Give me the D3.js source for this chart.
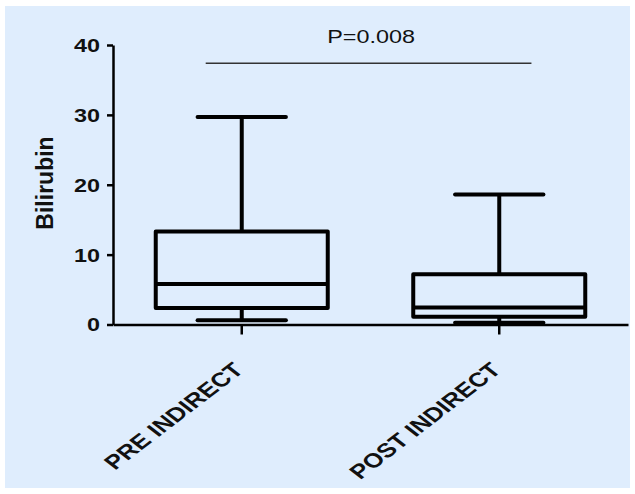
<!DOCTYPE html>
<html>
<head>
<meta charset="utf-8">
<script src="https://cdn.jsdelivr.net/npm/d3@7"></script>
<style>
  body { margin: 0; background: #fff; }
  svg { display: block; font-family: Arial, "Liberation Sans", sans-serif; }
</style>
</head>
<body>
<svg id="chart" width="635" height="494"></svg>
<script>
// groups and box stats
var categories = ['PRE INDIRECT', 'POST INDIRECT'];
var mins = [0.6, 0.25];
var q1s = [2.35, 1.1];
var medians = [5.8, 2.45];
var q3s = [13.3, 7.2];
var maxs = [29.7, 18.6];

var yTicks = [0, 10, 20, 30, 40];
var pLabel = 'P=0.008';
var pBracketValue = 37.4;

// the original figure is stretched sideways a bit
var SX = 1.3;

var svg = d3.select('#chart');

svg.append('rect')
  .attr('x', 5).attr('y', 6)
  .attr('width', 625).attr('height', 482)
  .attr('fill', '#dfedfd');

var x = d3.scaleBand().domain(categories).range([113, 628]).padding(0);
var y = d3.scaleLinear().domain([0, 40]).range([324.5, 45]);

var bw = x.bandwidth(),
  boxW = bw * 0.668,
  capW = bw * 0.343;

// y axis
var yAxis = svg.append('g')
  .attr('transform', 'translate(' + x.range()[0] + ',0)')
  .call(d3.axisLeft(y).tickValues(yTicks).tickSize(6).tickSizeOuter(0));
yAxis.select('.domain').attr('stroke', '#000').attr('stroke-width', 2.5);
yAxis.selectAll('.tick line').attr('stroke', '#000').attr('stroke-width', 2.5);
yAxis.selectAll('.tick text')
  .attr('x', 0)
  .attr('dy', '0.36em')
  .attr('transform', 'translate(-13,0) scale(' + SX + ',1)')
  .attr('font-size', 18)
  .attr('font-weight', 'bold')
  .attr('fill', '#111');

// x axis
var xAxis = svg.append('g')
  .attr('transform', 'translate(0,' + y(0) + ')')
  .call(d3.axisBottom(x).tickSize(10).tickSizeOuter(0));
xAxis.select('.domain').attr('stroke', '#000').attr('stroke-width', 2.5);
xAxis.selectAll('.tick line').attr('stroke', '#000').attr('stroke-width', 2.5);
xAxis.selectAll('.tick text').remove();

// rotated group labels
svg.append('g').selectAll('text')
  .data(categories)
  .join('text')
  .attr('transform', function(d) {
    var cx = x(d) + bw / 2;
    return 'translate(' + (cx + 3) + ',371) scale(' + SX + ',1) rotate(-45)';
  })
  .attr('text-anchor', 'end')
  .attr('font-size', 20)
  .attr('font-weight', 'bold')
  .attr('fill', '#111')
  .text(function(d) { return d; });

// y title
svg.append('text')
  .attr('transform', 'translate(53,183) rotate(-90)')
  .attr('text-anchor', 'middle')
  .attr('font-size', 23)
  .attr('font-weight', 'bold')
  .attr('fill', '#111')
  .text('Bilirubin');

// boxes
var boxes = svg.append('g').selectAll('g')
  .data(categories)
  .join('g')
  .attr('stroke', '#000')
  .attr('stroke-width', 4)
  .attr('fill', 'none');

boxes.each(function(d, i) {
  var g = d3.select(this);
  var cx = x(d) + bw / 2;
  // whiskers
  g.append('line').attr('x1', cx).attr('x2', cx).attr('y1', y(q3s[i])).attr('y2', y(maxs[i]));
  g.append('line').attr('x1', cx).attr('x2', cx).attr('y1', y(q1s[i])).attr('y2', y(mins[i]));
  g.append('line').attr('x1', cx - capW / 2).attr('x2', cx + capW / 2)
    .attr('y1', y(maxs[i])).attr('y2', y(maxs[i])).attr('stroke-linecap', 'round');
  g.append('line').attr('x1', cx - capW / 2).attr('x2', cx + capW / 2)
    .attr('y1', y(mins[i])).attr('y2', y(mins[i])).attr('stroke-linecap', 'round');
  // box
  g.append('rect')
    .attr('x', cx - boxW / 2)
    .attr('y', y(q3s[i]))
    .attr('width', boxW)
    .attr('height', y(q1s[i]) - y(q3s[i]))
    .attr('stroke-linejoin', 'round');
  // median
  g.append('line').attr('x1', cx - boxW / 2).attr('x2', cx + boxW / 2)
    .attr('y1', y(medians[i])).attr('y2', y(medians[i]));
});

// significance bracket
var c0 = x(categories[0]) + bw / 2,
  c1 = x(categories[1]) + bw / 2;
svg.append('line')
  .attr('x1', c0 - bw * 0.14)
  .attr('x2', c1 + bw * 0.125)
  .attr('y1', y(pBracketValue))
  .attr('y2', y(pBracketValue))
  .attr('stroke', '#333')
  .attr('stroke-width', 1.5);

svg.append('text')
  .attr('transform', 'translate(' + ((c0 + c1) / 2 + 0.5) + ',43) scale(' + SX + ',1)')
  .attr('text-anchor', 'middle')
  .attr('font-size', 18)
  .attr('fill', '#111')
  .text(pLabel);
</script>
</body>
</html>
